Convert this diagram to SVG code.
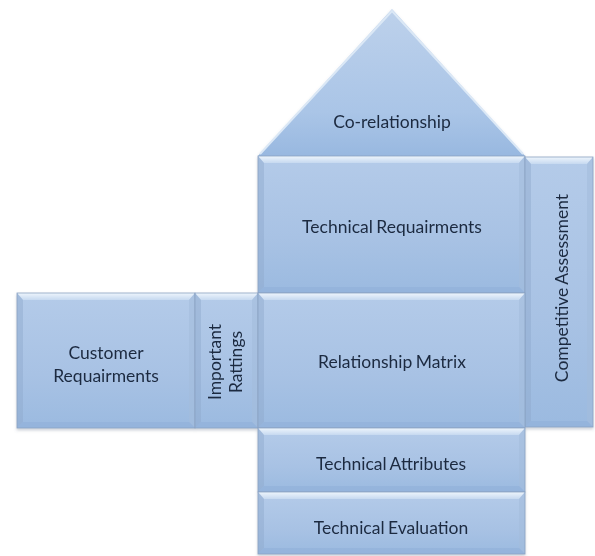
<svg xmlns="http://www.w3.org/2000/svg" width="595" height="556" viewBox="0 0 595 556">
  <defs>
    <linearGradient id="bodyFill" x1="0" y1="0" x2="0" y2="1">
      <stop offset="0" stop-color="#b4cbe9"/>
      <stop offset="0.6" stop-color="#a8c2e4"/>
      <stop offset="1" stop-color="#9bbae0"/>
    </linearGradient>
    <linearGradient id="roofFill" x1="0" y1="0" x2="0" y2="1">
      <stop offset="0" stop-color="#bdd1eb"/>
      <stop offset="0.7" stop-color="#aac5e7"/>
      <stop offset="1" stop-color="#98b8e0"/>
    </linearGradient>
    <linearGradient id="topBevel" x1="0" y1="0" x2="0" y2="1">
      <stop offset="0" stop-color="#eef5fc"/>
      <stop offset="1" stop-color="#c6d9f0"/>
    </linearGradient>
    <filter id="softShadow" x="-5%" y="-5%" width="110%" height="115%">
      <feDropShadow dx="0" dy="2" stdDeviation="1.5" flood-color="#5a6b80" flood-opacity="0.3"/>
    </filter>
  </defs>
  <style>
    .body { fill: url(#bodyFill); }
    .roof { fill: url(#roofFill); }
    .bev-top { fill: url(#topBevel); }
    .bev-side { fill: #8fa9cc; opacity: 0.45; }
    .bev-right { fill: #a3bcdc; opacity: 0.6; }
    .bev-bottom { fill: #8eaed8; opacity: 0.5; }
    .edge { fill: none; stroke: #8aa2c2; stroke-width: 0.8; }
    .label { font-family: Lato, "Liberation Sans", sans-serif; font-size: 17.5px; word-spacing: -1px; fill: #1c2a40; text-anchor: middle; }
  </style>

  <g filter="url(#softShadow)">
    <!-- roof -->
    <g id="co-relationship">
      <polygon class="roof" points="392,9 525,156 258,156"/>
      <polyline points="260,154 392,11 523,154" fill="none" stroke="#dbe8f6" stroke-width="2"/>
      <text class="label" x="392" y="128">Co-relationship</text>
    </g>

    <g id="technical-requirements">
      <rect class="body" x="258" y="156" width="267" height="137"/>
      <polygon class="bev-top" points="258,156 525,156 519,163 264,163"/>
      <polygon class="bev-side" points="258,156 264,163 264,287 258,293"/>
      <polygon class="bev-right" points="525,156 519,163 519,287 525,293"/>
      <polygon class="bev-bottom" points="258,293 264,287 519,287 525,293"/>
      <rect class="edge" x="258" y="156" width="267" height="137"/>
      <text class="label" x="392" y="233">Technical Requairments</text>
    </g>

    <g id="competitive-assessment">
      <rect class="body" x="525" y="157" width="68" height="270"/>
      <polygon class="bev-top" points="525,157 593,157 587,164 531,164"/>
      <polygon class="bev-side" points="525,157 531,164 531,421 525,427"/>
      <polygon class="bev-right" points="593,157 587,164 587,421 593,427"/>
      <polygon class="bev-bottom" points="525,427 531,421 587,421 593,427"/>
      <rect class="edge" x="525" y="157" width="68" height="270"/>
      <text class="label" transform="translate(568,288) rotate(-90)">Competitive Assessment</text>
    </g>

    <g id="customer-requirements">
      <rect class="body" x="17" y="293" width="178" height="135"/>
      <polygon class="bev-top" points="17,293 195,293 189,300 23,300"/>
      <polygon class="bev-side" points="17,293 23,300 23,422 17,428"/>
      <polygon class="bev-right" points="195,293 189,300 189,422 195,428"/>
      <polygon class="bev-bottom" points="17,428 23,422 189,422 195,428"/>
      <rect class="edge" x="17" y="293" width="178" height="135"/>
      <text class="label" x="106" y="359">Customer</text>
      <text class="label" x="106" y="382">Requairments</text>
    </g>

    <g id="important-ratings">
      <rect class="body" x="195" y="293" width="63" height="135"/>
      <polygon class="bev-top" points="195,293 258,293 252,300 201,300"/>
      <polygon class="bev-side" points="195,293 201,300 201,422 195,428"/>
      <polygon class="bev-right" points="258,293 252,300 252,422 258,428"/>
      <polygon class="bev-bottom" points="195,428 201,422 252,422 258,428"/>
      <rect class="edge" x="195" y="293" width="63" height="135"/>
      <text class="label" transform="translate(221,362) rotate(-90)">Important</text>
      <text class="label" transform="translate(242,362) rotate(-90)">Rattings</text>
    </g>

    <g id="relationship-matrix">
      <rect class="body" x="258" y="293" width="267" height="135"/>
      <polygon class="bev-top" points="258,293 525,293 519,300 264,300"/>
      <polygon class="bev-side" points="258,293 264,300 264,422 258,428"/>
      <polygon class="bev-right" points="525,293 519,300 519,422 525,428"/>
      <polygon class="bev-bottom" points="258,428 264,422 519,422 525,428"/>
      <rect class="edge" x="258" y="293" width="267" height="135"/>
      <text class="label" x="392" y="368">Relationship Matrix</text>
    </g>

    <g id="technical-attributes">
      <rect class="body" x="258" y="428" width="267" height="64"/>
      <polygon class="bev-top" points="258,428 525,428 519,435 264,435"/>
      <polygon class="bev-side" points="258,428 264,435 264,486 258,492"/>
      <polygon class="bev-right" points="525,428 519,435 519,486 525,492"/>
      <polygon class="bev-bottom" points="258,492 264,486 519,486 525,492"/>
      <rect class="edge" x="258" y="428" width="267" height="64"/>
      <text class="label" x="391" y="470">Technical Attributes</text>
    </g>

    <g id="technical-evaluation">
      <rect class="body" x="258" y="492" width="267" height="62"/>
      <polygon class="bev-top" points="258,492 525,492 519,499 264,499"/>
      <polygon class="bev-side" points="258,492 264,499 264,548 258,554"/>
      <polygon class="bev-right" points="525,492 519,499 519,548 525,554"/>
      <polygon class="bev-bottom" points="258,554 264,548 519,548 525,554"/>
      <rect class="edge" x="258" y="492" width="267" height="62"/>
      <text class="label" x="391" y="534">Technical Evaluation</text>
    </g>
  </g>

  <!-- no connectors in this figure -->
  <g id="connectors"/>
</svg>
